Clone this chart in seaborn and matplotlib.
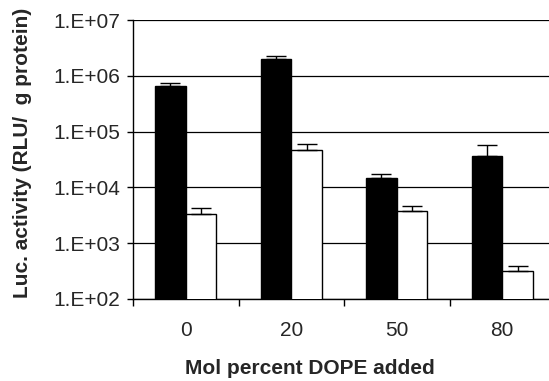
import numpy as np
import pandas as pd
import matplotlib
matplotlib.use("Agg")
import matplotlib.pyplot as plt
import seaborn as sns
from matplotlib.ticker import FixedLocator, FuncFormatter, NullLocator

categories = ["0", "20", "50", "80"]
series_names = ["A", "B"]
black_vals = [6.6e5, 1.97e6, 1.46e4, 3.66e4]
black_err = [0.8e5, 0.32e6, 0.30e4, 2.2e4]
white_vals = [3.4e3, 4.7e4, 3.7e3, 3.2e2]
white_err = [0.9e3, 1.2e4, 0.9e3, 0.7e2]
ytick_vals = [1e2, 1e3, 1e4, 1e5, 1e6, 1e7]

df = pd.DataFrame({
    "cat": categories * 2,
    "series": [series_names[0]] * 4 + [series_names[1]] * 4,
    "val": black_vals + white_vals,
    "err": black_err + white_err,
})

sns.set_theme(style="white")
plt.rcParams["font.family"] = ["Liberation Sans", "DejaVu Sans"]

W, H = 549, 381
fig = plt.figure(figsize=(W / 100, H / 100), dpi=100)
ax_left, ax_bottom, ax_w, ax_h = 133, 299, 422, 279
ax = fig.add_axes([ax_left / W, (H - ax_bottom) / H, ax_w / W, ax_h / H])

sns.barplot(data=df, x="cat", y="val", hue="series", order=categories,
            hue_order=series_names, palette=["black", "white"],
            edgecolor="black", linewidth=1.0, width=0.58, errorbar=None,
            legend=False, ax=ax, log_scale=(False, True), zorder=3, saturation=1)

# error bars (upper only) at bar centres
for patch_group, (vals, errs) in zip(
        [ax.patches[:4], ax.patches[4:8]],
        [(black_vals, black_err), (white_vals, white_err)]):
    xs = [p.get_x() + p.get_width() / 2 for p in patch_group]
    ax.errorbar(xs, vals, yerr=[np.zeros(len(vals)), errs], fmt="none",
                ecolor="black", elinewidth=1.0, capsize=7, capthick=1.0, zorder=4)

ax.set_yscale("log")
ax.set_ylim(1e2, 1e7)
ax.yaxis.set_major_locator(FixedLocator(ytick_vals))
ax.yaxis.set_minor_locator(NullLocator())
ax.yaxis.set_major_formatter(FuncFormatter(lambda v, p: f"1.E+{int(round(np.log10(v))):02d}"))
ax.grid(axis="y", color="black", linewidth=0.9, zorder=0)
ax.set_axisbelow(True)

ax.set_xlim(-0.5, 3.5)
n = len(categories)
ax.set_xticks([i + 0.5 for i in range(-1, n - 1)])
ax.set_xticklabels([])
ax.set_xticks(range(n), minor=True)
ax.set_xticklabels(categories, minor=True)
ax.tick_params(axis="x", which="major", direction="out", length=5, width=1, color="black", bottom=True)
ax.tick_params(axis="x", which="minor", length=0, pad=16, labelsize=15)
ax.tick_params(axis="y", which="major", direction="out", length=4.5, width=1, color="black", left=True, labelsize=15, pad=5)

for s in ["top", "right"]:
    ax.spines[s].set_visible(False)
for s in ["left", "bottom"]:
    ax.spines[s].set_color("black")
    ax.spines[s].set_linewidth(1.0)

ax.set_xlabel("Mol percent DOPE added", fontsize=15, fontweight="bold")
ax.set_ylabel("Luc. activity (RLU/  g protein)", fontsize=15, fontweight="bold")
ax.xaxis.label.set_va("center")
ax.yaxis.label.set_va("center")
ax.xaxis.set_label_coords((309.7 - ax_left) / ax_w, (ax_bottom - 368) / ax_h)
ax.yaxis.set_label_coords((22.5 - ax_left) / ax_w, (ax_bottom - 152.5) / ax_h)

fig.savefig("out.png", dpi=100)
